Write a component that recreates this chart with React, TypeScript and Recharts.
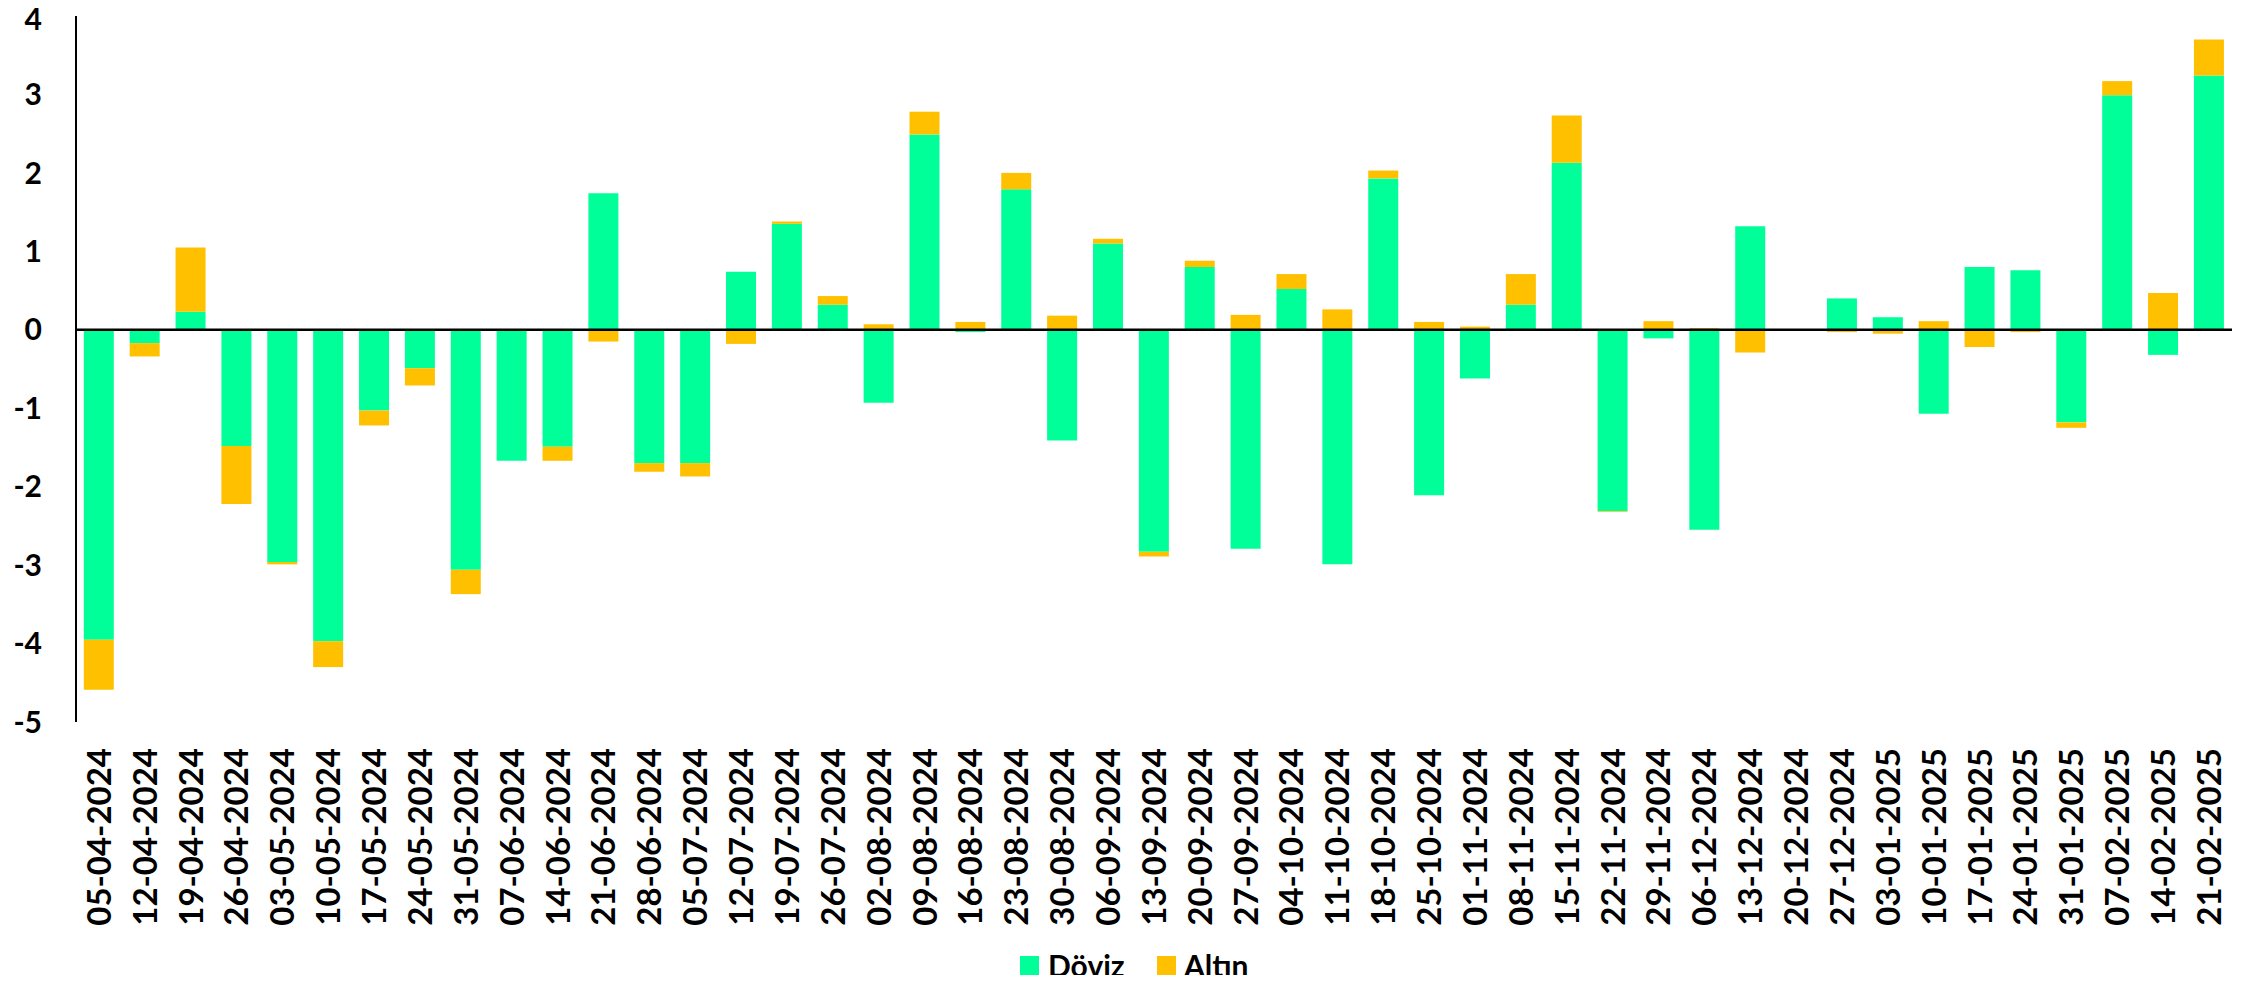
import React from 'react';
import { BarChart, Bar, XAxis, YAxis, ReferenceLine, Legend } from 'recharts';

const dates = [
  '05-04-2024', '12-04-2024', '19-04-2024', '26-04-2024', '03-05-2024', '10-05-2024',
  '17-05-2024', '24-05-2024', '31-05-2024', '07-06-2024', '14-06-2024', '21-06-2024',
  '28-06-2024', '05-07-2024', '12-07-2024', '19-07-2024', '26-07-2024', '02-08-2024',
  '09-08-2024', '16-08-2024', '23-08-2024', '30-08-2024', '06-09-2024', '13-09-2024',
  '20-09-2024', '27-09-2024', '04-10-2024', '11-10-2024', '18-10-2024', '25-10-2024',
  '01-11-2024', '08-11-2024', '15-11-2024', '22-11-2024', '29-11-2024', '06-12-2024',
  '13-12-2024', '20-12-2024', '27-12-2024', '03-01-2025', '10-01-2025', '17-01-2025',
  '24-01-2025', '31-01-2025', '07-02-2025', '14-02-2025', '21-02-2025',
];

const doviz = [
  -3.95, -0.17, 0.23, -1.48, -2.96, -3.97, -1.03, -0.49, -3.06, -1.67, -1.49, 1.74,
  -1.7, -1.7, 0.74, 1.35, 0.32, -0.93, 2.49, -0.03, 1.79, -1.41, 1.1, -2.83,
  0.8, -2.79, 0.52, -2.99, 1.93, -2.11, -0.62, 0.32, 2.13, -2.31, -0.11, -2.55,
  1.32, 0, 0.4, 0.16, -1.07, 0.8, 0.76, -1.18, 2.99, -0.32, 3.24,
];

const altin = [
  -0.64, -0.17, 0.82, -0.74, -0.03, -0.33, -0.19, -0.22, -0.31, 0.01, -0.18, -0.15,
  -0.11, -0.17, -0.18, 0.03, 0.11, 0.07, 0.29, 0.1, 0.21, 0.18, 0.06, -0.06,
  0.08, 0.19, 0.19, 0.26, 0.1, 0.1, 0.04, 0.39, 0.6, -0.01, 0.11, 0.02,
  -0.29, 0, -0.03, -0.05, 0.11, -0.22, -0.03, -0.07, 0.18, 0.47, 0.46,
];

const yTicks = [-5, -4, -3, -2, -1, 0, 1, 2, 3, 4];

const GREEN = '#00FF99';
const GOLD = '#FFC000';
const FONT = 'Lato, "Open Sans", sans-serif';

const chartData = dates.map((d, i) => ({ date: d, doviz: doviz[i], altin: altin[i] }));

const DateTick = (props: any) => {
  const { x, y, payload } = props;
  return (
    <text
      x={x}
      y={y}
      transform={`rotate(-90, ${x}, ${y})`}
      textAnchor="end"
      dy="0.36em"
      fill="#000"
      fontFamily={FONT}
      fontWeight={700}
      fontSize={33}
    >
      {payload.value}
    </text>
  );
};

// value labels on the left; the top one is nudged so it stays inside the page
const ValueTick = (props: any) => {
  const { x, y, payload } = props;
  const ty = Math.max(y, 19);
  return (
    <text
      x={x}
      y={ty}
      textAnchor="end"
      dy="0.355em"
      fill="#000"
      fontFamily={FONT}
      fontWeight={700}
      fontSize={30}
    >
      {payload.value}
    </text>
  );
};

const LegendBox = () => (
  <div
    style={{
      height: 34,
      lineHeight: '30px',
      display: 'flex',
      alignItems: 'center',
      fontFamily: FONT,
      fontWeight: 700,
      fontSize: 30,
    }}
  >
    <span style={{ width: 19, height: 19, background: GREEN, display: 'inline-block', marginRight: 9 }} />
    <span style={{ display: 'inline-block', width: 109 }}>Döviz</span>
    <span style={{ width: 19, height: 19, background: GOLD, display: 'inline-block', marginRight: 8 }} />
    <span>Altın</span>
  </div>
);

export default function App() {
  return (
    <div style={{ margin: -8, background: '#fff' }}>
      <BarChart
        width={2252}
        height={983}
        data={chartData}
        stackOffset="sign"
        barCategoryGap="17%"
        margin={{ top: 16, right: 20, bottom: 0, left: 0 }}
      >
        <XAxis
          dataKey="date"
          axisLine={false}
          tickLine={false}
          tickSize={0}
          tickMargin={26}
          interval={0}
          height={227}
          tick={<DateTick />}
        />
        <YAxis
          width={76}
          domain={[-5, 4]}
          ticks={yTicks}
          interval={0}
          axisLine={{ stroke: '#000', strokeWidth: 2 }}
          tickLine={false}
          tickSize={0}
          tickMargin={34}
          tick={<ValueTick />}
        />
        <Legend
          verticalAlign="bottom"
          content={<LegendBox />}
          wrapperStyle={{ left: 1020, top: 948, width: 280, height: 34 }}
        />
        <Bar dataKey="doviz" name="Döviz" stackId="a" fill={GREEN} isAnimationActive={false} />
        <Bar dataKey="altin" name="Altın" stackId="a" fill={GOLD} isAnimationActive={false} />
        <ReferenceLine y={0} stroke="#000" strokeWidth={2.5} />
      </BarChart>
    </div>
  );
}
